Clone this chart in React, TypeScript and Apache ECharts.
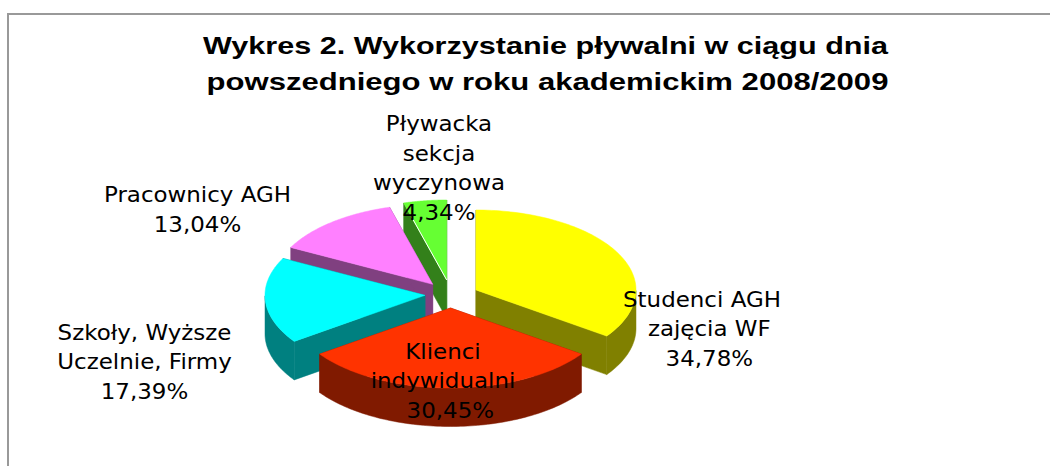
import React, { useEffect, useRef } from "react";
import * as echarts from "echarts";

const TITLE_LINE_1 = "Wykres 2. Wykorzystanie pływalni w ciągu dnia";
const TITLE_LINE_2 = "powszedniego w roku akademickim 2008/2009";
const categories = [
  "Studenci AGH zajęcia WF",
  "Klienci indywidualni",
  "Szkoły, Wyższe Uczelnie, Firmy",
  "Pracownicy AGH",
  "Pływacka sekcja wyczynowa",
];
const shares = [34.78, 30.45, 17.39, 13.04, 4.34];
const labels = [
  "Studenci AGH\n\u00a0\u00a0zajęcia WF\n\u00a0\u00a034,78%",
  "Klienci\nindywidualni\n\u00a0\u00a030,45%",
  "Szkoły, Wyższe\nUczelnie, Firmy\n17,39%",
  "Pracownicy AGH\n13,04%",
  "Pływacka\nsekcja\nwyczynowa\n4,34%",
];

// Presentation only: exploded apex of each slice, colours and label anchors.
const apexes = [[476, 290], [450.5, 308], [425, 295.3], [432.7, 284.3], [446.7, 280]];
const topColors = ["#ffff00", "#ff3300", "#00ffff", "#ff80ff", "#66ff33"];
const sideColors = ["#808000", "#801a00", "#008080", "#804080", "#33801a"];
const labelAnchors = [[702, 329], [443, 381], [144.5, 362], [197.5, 210], [439, 168.5]];
const drawOrder = [4, 3, 2, 0, 1];
const RX = 160, RY = 80, DEPTH = 38.5;
const GREEN_INDEX = 4;

const total = shares.reduce((a, b) => a + b, 0);
const startAngles = shares.map((_, i) =>
  shares.slice(0, i).reduce((a, b) => a + b, 0) / total * Math.PI * 2);

function renderSlice(_: any, api: any) {
  const i = api.value(0) as number;
  const value = api.value(1) as number;
  const [cx, cy] = apexes[i];
  const a0 = startAngles[i];
  const a1 = a0 + (value / total) * Math.PI * 2;
  const pt = (t: number, dy = 0) => [cx + RX * Math.sin(t), cy - RY * Math.cos(t) + dy];
  const steps = 90;
  const arc: number[][] = [];
  for (let k = 0; k <= steps; k++) arc.push(pt(a0 + (a1 - a0) * k / steps));
  const top = [[cx, cy], ...arc];

  const sideStyle = { fill: sideColors[i], stroke: sideColors[i], lineWidth: 0.5 };
  const children: any[] = [];
  for (const t of [a0, a1]) {
    const e = pt(t);
    children.push({
      type: "polygon",
      shape: { points: [[cx, cy], e, [e[0], e[1] + DEPTH], [cx, cy + DEPTH]] },
      style: sideStyle,
    });
  }
  const rim = arc.filter((_, k) => Math.cos(a0 + (a1 - a0) * k / steps) < 0);
  if (rim.length > 1) {
    children.push({
      type: "polygon",
      shape: { points: [...rim, ...rim.slice().reverse().map((p) => [p[0], p[1] + DEPTH])] },
      style: sideStyle,
    });
  }
  children.push({
    type: "polygon",
    shape: { points: top },
    style: { fill: topColors[i], stroke: topColors[i], lineWidth: 0.5 },
  });
  if (i === GREEN_INDEX) {
    const e = pt(a0);
    children.push({
      type: "line",
      shape: { x1: cx, y1: cy, x2: e[0] + 8, y2: e[1] + 14 },
      style: { stroke: "#ffffff", lineWidth: 1 },
    });
  }
  return { type: "group", children };
}

function renderLabel(_: any, api: any) {
  const i = api.value(0) as number;
  const [x, y] = labelAnchors[i];
  return {
    type: "text",
    x, y,
    scaleX: 1.12,
    style: {
      text: labels[i],
      fill: "#000",
      font: "20.5px 'DejaVu Sans'",
      lineHeight: 29.5,
      align: "center",
      verticalAlign: "middle",
    },
    z2: 100,
  };
}

const titleFont = "bold 24.5px 'Liberation Sans'";

export default function App() {
  const ref = useRef<HTMLDivElement>(null);
  useEffect(() => {
    const chart = echarts.init(ref.current!, undefined, { renderer: "svg" });
    const sliceData = drawOrder.map((i) => ({ name: categories[i], value: [i, shares[i]] }));
    chart.setOption({
      animation: false,
      backgroundColor: "#fff",
      graphic: [
        {
          type: "polyline",
          shape: { points: [[8, 466], [8, 14], [1050, 14]] },
          style: { stroke: "#999999", lineWidth: 2, fill: "none" },
        },
        {
          type: "text",
          x: 545.5, y: 46,
          scaleX: 1.248,
          style: { text: TITLE_LINE_1, fill: "#000", font: titleFont, align: "center", verticalAlign: "middle" },
        },
        {
          type: "text",
          x: 547.5, y: 82,
          scaleX: 1.268,
          style: { text: TITLE_LINE_2, fill: "#000", font: titleFont, align: "center", verticalAlign: "middle" },
        },
      ],
      series: [
        { type: "custom", coordinateSystem: "none", renderItem: renderSlice, data: sliceData, z: 2 },
        { type: "custom", coordinateSystem: "none", renderItem: renderLabel, data: sliceData, z: 3, silent: true },
      ],
    });
    return () => chart.dispose();
  }, []);
  return <div ref={ref} style={{ position: "fixed", left: 0, top: 0, width: 1050, height: 466 }} />;
}
